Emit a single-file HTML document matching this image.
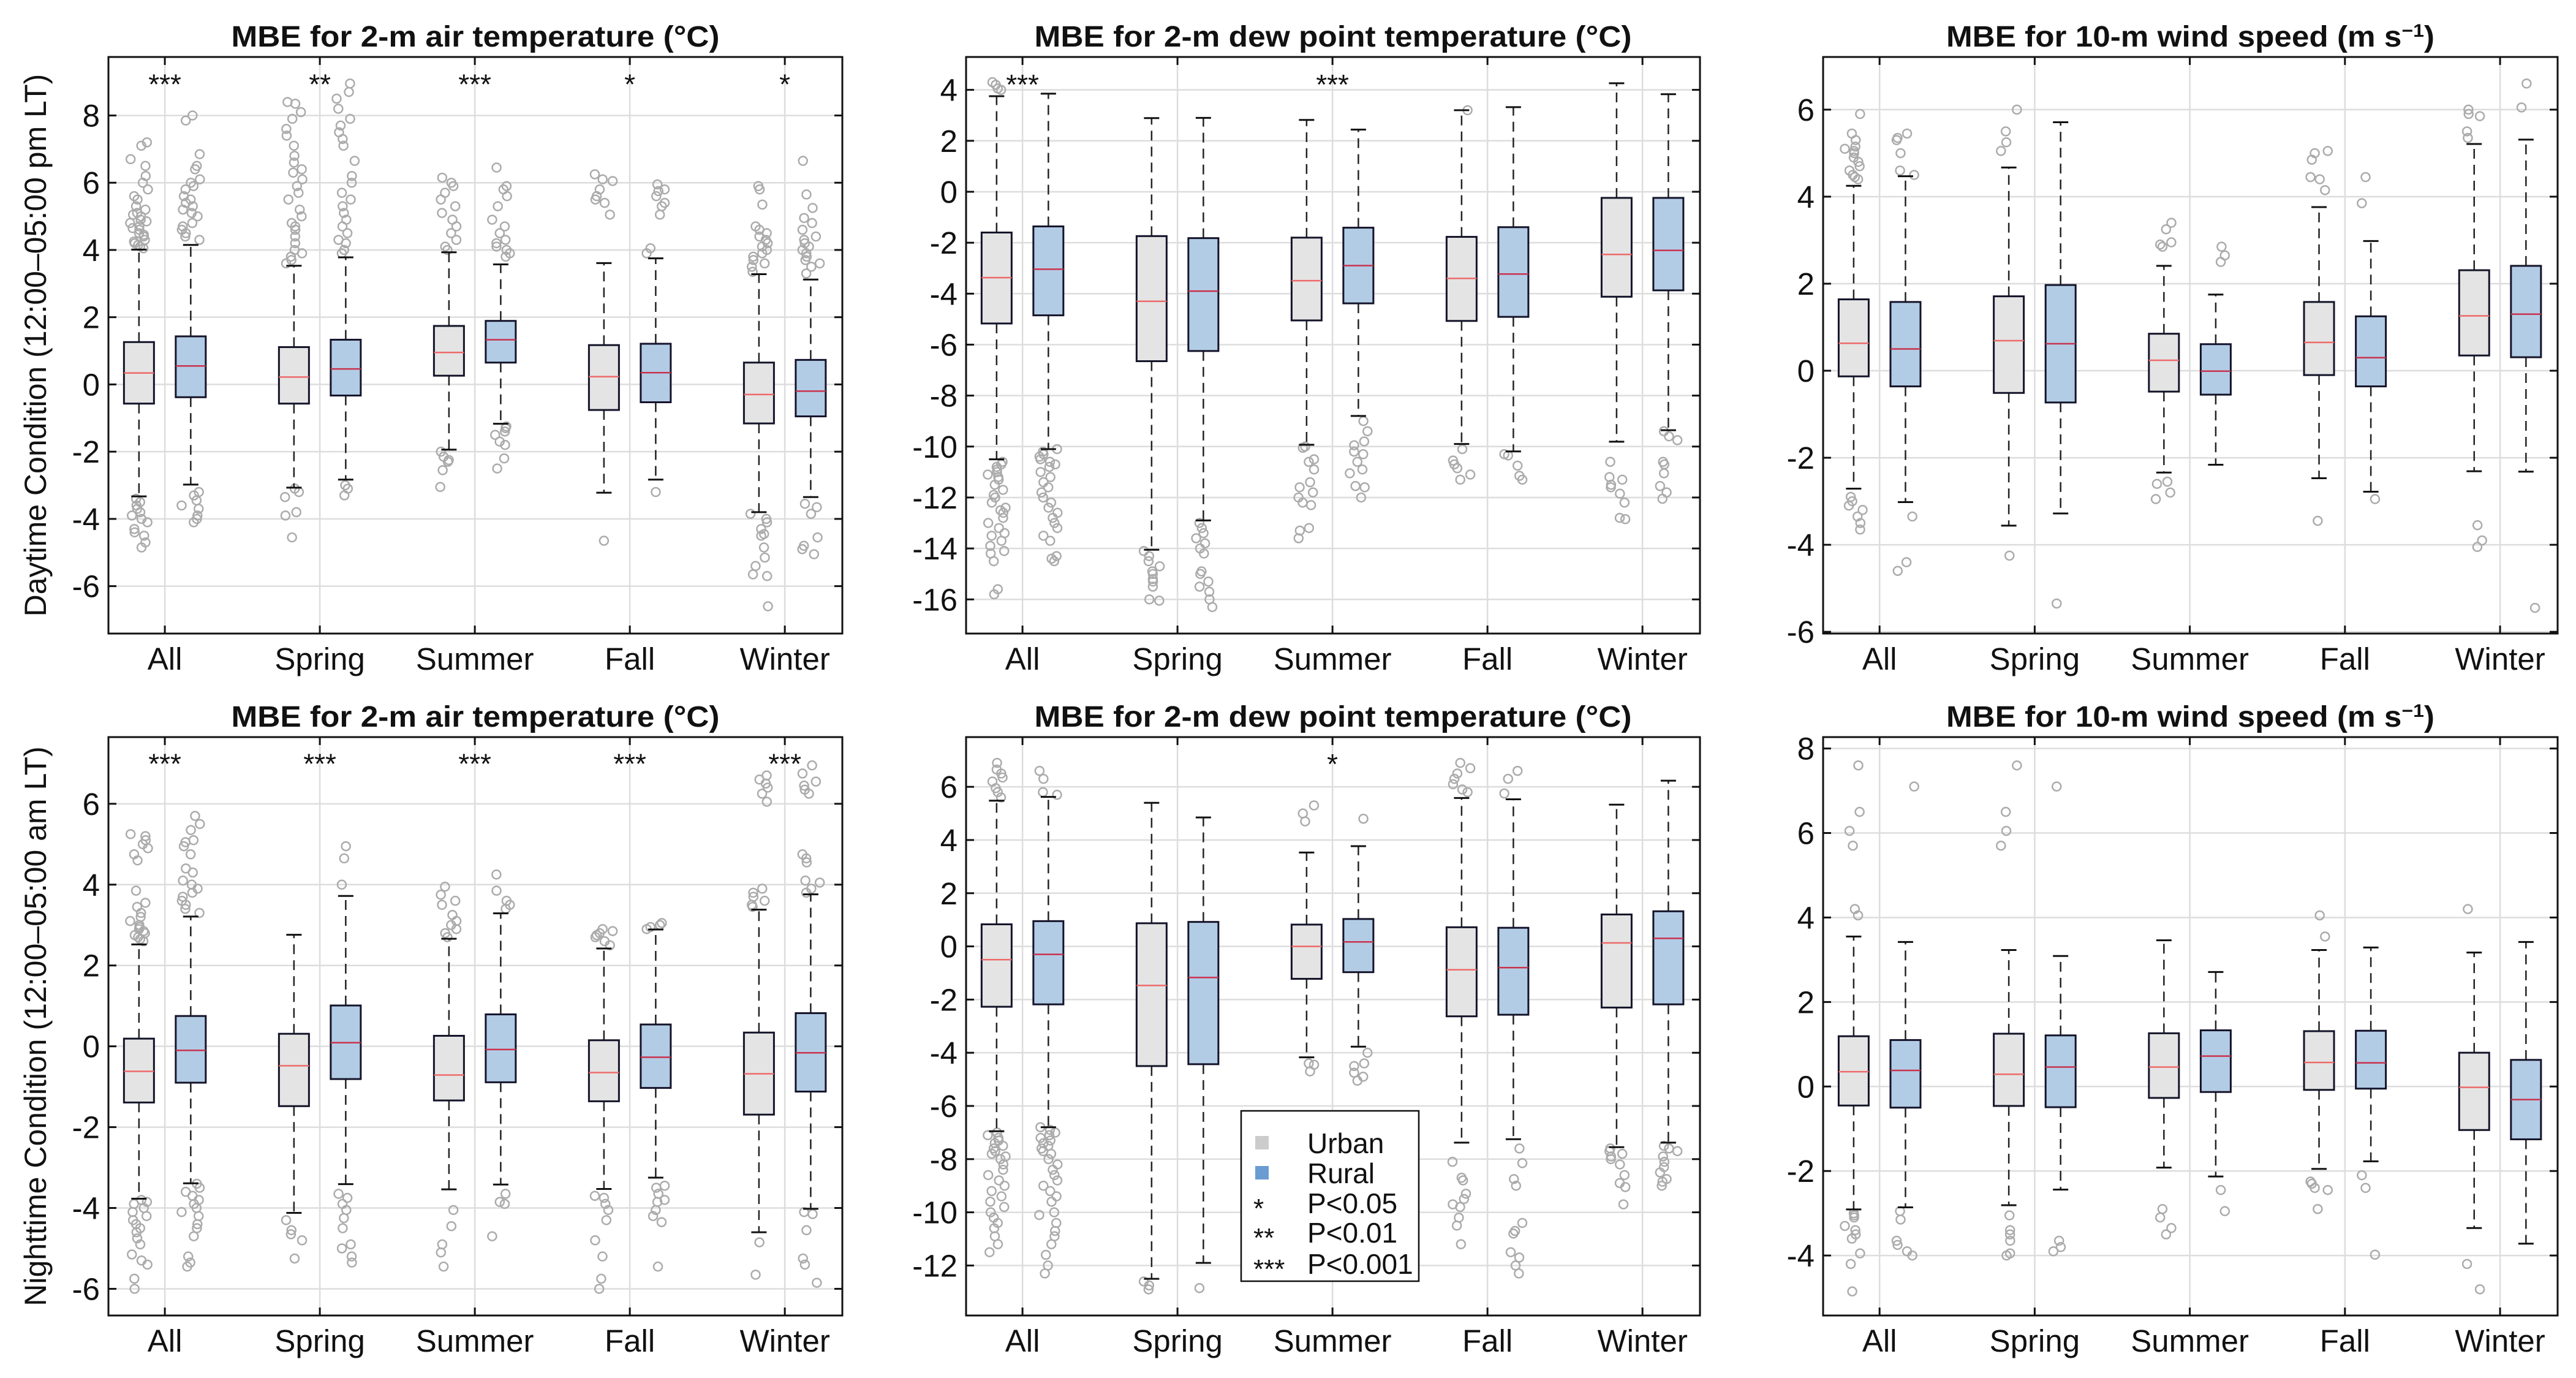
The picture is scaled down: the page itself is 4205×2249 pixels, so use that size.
<!DOCTYPE html>
<html><head><meta charset="utf-8"><title>MBE boxplots</title>
<style>html,body{margin:0;padding:0;background:#fff}svg{display:block}text{font-family:"Liberation Sans",Arial,sans-serif;fill:#111}</style>
</head><body>
<svg id="fig" xmlns="http://www.w3.org/2000/svg" width="4205" height="2249" viewBox="0 0 4205 2249"></svg>
<script>
const categories = ["All","Spring","Summer","Fall","Winter"];
// Panel 1: air temperature, daytime
const p1UrbanQ1=[-0.57,-0.57,0.26,-0.76,-1.16], p1UrbanMed=[0.34,0.22,0.95,0.23,-0.30], p1UrbanQ3=[1.26,1.11,1.74,1.17,0.65], p1UrbanLo=[-3.33,-3.07,-1.94,-3.22,-3.8], p1UrbanHi=[4.01,3.53,3.93,3.61,3.28];
const p1RuralQ1=[-0.38,-0.33,0.65,-0.53,-0.95], p1RuralMed=[0.55,0.46,1.33,0.35,-0.2], p1RuralQ3=[1.43,1.33,1.89,1.21,0.73], p1RuralLo=[-2.98,-2.83,-1.17,-2.83,-3.35], p1RuralHi=[4.15,3.78,3.57,3.75,3.12];
const p1UrbanOut=[[4.05,4.1,4.15,4.2,4.3,4.4,4.5,4.6,4.7,4.8,4.9,5.0,5.1,5.2,5.3,5.5,5.6,5.8,6.0,6.2,6.5,6.7,7.1,7.2,4.25,4.45,4.65,4.85,5.05,-3.4,-3.5,-3.6,-3.7,-3.8,-3.9,-4.0,-4.1,-4.3,-4.4,-4.5,-4.7,-4.85],[3.6,3.7,3.8,3.9,4.0,4.2,4.4,4.6,4.7,4.8,5.0,5.2,5.5,5.7,5.9,6.1,6.3,6.4,6.6,6.8,7.1,7.4,7.6,7.9,8.1,8.35,8.4,-3.1,-3.2,-3.35,-3.8,-3.9,-4.55],[4.0,4.1,4.3,4.5,4.7,4.9,5.1,5.3,5.5,5.7,5.9,6.0,6.15,-2.0,-2.15,-2.25,-2.3,-2.55,-3.05],[5.05,5.4,5.5,5.6,5.8,6.05,6.1,6.25,-4.65],[3.35,3.5,3.6,3.7,3.8,3.9,4.0,4.1,4.2,4.3,4.4,4.5,4.6,4.7,5.35,5.8,5.9,-3.85,-4.0,-4.1,-4.3,-4.45,-4.5,-4.85,-5.15,-5.4,-5.65,-5.7,-6.6]];
const p1RuralOut=[[4.3,4.4,4.5,4.6,4.7,4.8,5.0,5.1,5.2,5.3,5.4,5.5,5.6,5.8,5.9,6.0,6.1,6.4,6.5,6.85,7.85,8.0,-3.2,-3.3,-3.45,-3.6,-3.7,-3.9,-4.0,-4.1],[3.9,4.0,4.2,4.3,4.5,4.7,4.9,5.1,5.3,5.5,5.7,6.0,6.2,6.65,7.1,7.3,7.5,7.7,7.9,8.2,8.5,8.7,8.95,-3.0,-3.1,-3.3],[3.8,3.9,4.0,4.1,4.2,4.3,4.5,4.7,4.9,5.3,5.6,5.8,5.9,6.45,-1.25,-1.3,-1.4,-1.5,-1.7,-1.8,-2.2,-2.5],[3.9,4.05,5.05,5.3,5.4,5.6,5.75,5.8,5.95,-3.2],[3.3,3.5,3.6,3.7,3.8,3.9,4.0,4.1,4.2,4.3,4.4,4.6,4.8,4.95,5.25,5.65,6.65,-3.55,-3.65,-3.85,-4.55,-4.8,-4.9,-5.05]];
const p1Stars=["***","**","***","*","*"];
const p1Ticks=[-6,-4,-2,0,2,4,6,8];
// Panel 2: dew point, daytime
const p2UrbanQ1=[-5.17,-6.65,-5.05,-5.07,-4.12], p2UrbanMed=[-3.37,-4.3,-3.49,-3.4,-2.46], p2UrbanQ3=[-1.6,-1.74,-1.8,-1.77,-0.24], p2UrbanLo=[-10.5,-14.05,-9.93,-9.9,-9.81], p2UrbanHi=[3.75,2.89,2.82,3.2,4.26];
const p2RuralQ1=[-4.85,-6.25,-4.38,-4.91,-3.87], p2RuralMed=[-3.04,-3.9,-2.9,-3.23,-2.3], p2RuralQ3=[-1.36,-1.82,-1.41,-1.39,-0.24], p2RuralLo=[-10.1,-12.9,-8.8,-10.19,-9.36], p2RuralHi=[3.85,2.9,2.44,3.32,3.83];
const p2UrbanOut=[[4.0,4.05,4.2,4.3,-10.6,-10.7,-10.8,-10.9,-11.0,-11.1,-11.2,-11.3,-11.5,-11.7,-11.9,-12.0,-12.2,-12.4,-12.5,-12.6,-12.8,-13.0,-13.2,-13.4,-13.5,-13.7,-13.9,-14.1,-14.2,-14.5,-15.6,-15.8],[-14.1,-14.3,-14.5,-14.7,-14.9,-15.0,-15.2,-15.3,-15.5,-16.0,-16.05],[-10.0,-10.05,-10.5,-10.6,-10.9,-11.4,-11.6,-11.8,-12.0,-12.2,-12.3,-13.2,-13.3,-13.6],[3.2,-10.1,-10.55,-10.7,-10.85,-11.1,-11.3],[-10.6,-11.2,-11.3,-11.5,-11.6,-11.85,-12.2,-12.8,-12.85]];
const p2RuralOut=[[-10.1,-10.2,-10.3,-10.4,-10.5,-10.6,-10.7,-10.8,-11.0,-11.2,-11.4,-11.6,-11.8,-12.0,-12.2,-12.4,-12.6,-12.8,-13.0,-13.2,-13.5,-13.7,-14.3,-14.4,-14.5],[-13.0,-13.2,-13.4,-13.6,-13.8,-14.0,-14.2,-14.9,-15.0,-15.3,-15.5,-15.7,-16.0,-16.3],[-9.0,-9.4,-9.8,-9.95,-10.2,-10.3,-10.6,-10.9,-11.05,-11.55,-11.6,-12.0],[-10.3,-10.35,-10.75,-11.15,-11.3],[-9.4,-9.6,-9.75,-10.6,-10.7,-11.05,-11.55,-11.8,-12.05]];
const p2Stars=["***","","***","",""];
const p2Ticks=[-16,-14,-12,-10,-8,-6,-4,-2,0,2,4];
// Panel 3: wind speed, daytime
const p3UrbanQ1=[-0.13,-0.51,-0.48,-0.1,0.35], p3UrbanMed=[0.63,0.69,0.24,0.65,1.26], p3UrbanQ3=[1.64,1.71,0.85,1.58,2.31], p3UrbanLo=[-2.71,-3.56,-2.34,-2.47,-2.31], p3UrbanHi=[4.25,4.67,2.41,3.76,5.21];
const p3RuralQ1=[-0.36,-0.73,-0.55,-0.36,0.31], p3RuralMed=[0.5,0.62,-0.01,0.3,1.3], p3RuralQ3=[1.58,1.97,0.61,1.25,2.41], p3RuralLo=[-3.02,-3.28,-2.16,-2.78,-2.32], p3RuralHi=[4.47,5.71,1.75,2.98,5.31];
const p3UrbanOut=[[4.4,4.45,4.5,4.6,4.7,4.8,4.9,5.0,5.05,5.1,5.15,5.3,5.45,5.9,-2.9,-3.0,-3.1,-3.2,-3.35,-3.5,-3.65],[5.05,5.25,5.5,6.0,-4.25],[2.85,2.9,2.95,3.25,3.4,-2.55,-2.6,-2.8,-2.95],[4.15,4.4,4.45,4.85,5.0,5.05,-3.45],[5.35,5.5,5.85,5.9,6.0,-3.55,-3.9,-4.05]];
const p3RuralOut=[[4.5,4.6,5.0,5.3,5.35,5.45,-3.35,-4.4,-4.6],[-5.35],[2.5,2.65,2.85],[3.85,4.45,-2.95],[6.05,6.6,-5.45]];
const p3Stars=["","","","",""];
const p3Ticks=[-6,-4,-2,0,2,4,6];
// Panel 4: air temperature, nighttime
const p4UrbanQ1=[-1.39,-1.48,-1.34,-1.36,-1.69], p4UrbanMed=[-0.62,-0.48,-0.71,-0.65,-0.68], p4UrbanQ3=[0.19,0.31,0.26,0.15,0.34], p4UrbanLo=[-3.77,-4.12,-3.54,-3.53,-4.6], p4UrbanHi=[2.52,2.76,2.66,2.42,3.38];
const p4RuralQ1=[-0.9,-0.81,-0.89,-1.03,-1.12], p4RuralMed=[-0.1,0.09,-0.08,-0.27,-0.16], p4RuralQ3=[0.75,1.01,0.79,0.54,0.82], p4RuralLo=[-3.39,-3.41,-3.42,-3.25,-4.02], p4RuralHi=[3.21,3.72,3.29,2.89,3.76];
const p4UrbanOut=[[2.6,2.65,2.7,2.75,2.8,2.85,2.9,2.95,3.0,3.1,3.2,3.3,3.45,3.55,3.85,4.6,4.75,4.9,5.0,5.1,5.2,5.25,-3.8,-3.85,-3.9,-4.0,-4.1,-4.2,-4.3,-4.4,-4.5,-4.6,-4.75,-4.9,-5.15,-5.3,-5.4,-5.75,-6.0],[-4.3,-4.55,-4.65,-4.8,-5.25],[2.7,2.8,2.9,3.0,3.1,3.25,3.5,3.6,3.75,3.95,-4.05,-4.45,-4.9,-5.1,-5.45],[2.5,2.6,2.7,2.75,2.8,2.85,2.9,-3.7,-3.75,-3.9,-4.05,-4.3,-4.8,-5.2,-5.75,-6.0],[3.45,3.5,3.6,3.7,3.8,3.9,6.05,6.25,6.4,6.5,6.6,6.7,-4.85,-5.65]];
const p4RuralOut=[[3.3,3.4,3.5,3.6,3.7,3.8,3.9,4.0,4.1,4.3,4.4,4.75,4.95,5.05,5.1,5.35,5.5,5.7,-3.4,-3.5,-3.6,-3.7,-3.8,-3.9,-4.0,-4.1,-4.2,-4.4,-4.5,-4.7,-5.2,-5.35,-5.45],[4.0,4.65,4.95,-3.65,-3.75,-3.9,-4.05,-4.25,-4.5,-4.9,-5.0,-5.2,-5.35],[3.4,3.5,3.6,3.85,4.25,-3.65,-3.85,-3.9,-4.7],[2.9,2.95,3.0,3.05,-3.45,-3.5,-3.65,-3.8,-3.85,-4.05,-4.2,-4.35,-5.45],[3.8,3.9,4.05,4.1,4.55,4.65,4.75,6.25,6.35,6.45,6.55,6.75,6.95,-4.1,-4.15,-4.55,-5.25,-5.4,-5.85]];
const p4Stars=["***","***","***","***","***"];
const p4Ticks=[-6,-4,-2,0,2,4,6];
// Panel 5: dew point, nighttime
const p5UrbanQ1=[-2.27,-4.5,-1.22,-2.63,-2.3], p5UrbanMed=[-0.5,-1.47,0,-0.88,0.13], p5UrbanQ3=[0.83,0.87,0.82,0.72,1.2], p5UrbanLo=[-6.95,-12.5,-4.17,-7.38,-7.55], p5UrbanHi=[5.48,5.4,3.53,5.58,5.33];
const p5RuralQ1=[-2.18,-4.43,-0.97,-2.57,-2.18], p5RuralMed=[-0.3,-1.17,0.17,-0.8,0.3], p5RuralQ3=[0.95,0.92,1.03,0.7,1.32], p5RuralLo=[-6.8,-11.9,-3.77,-7.25,-7.38], p5RuralHi=[5.62,4.85,3.77,5.53,6.23];
const p5UrbanOut=[[5.6,5.8,5.95,6.2,6.35,6.5,6.65,6.9,-7.0,-7.1,-7.2,-7.3,-7.4,-7.5,-7.6,-7.7,-7.8,-7.9,-8.0,-8.2,-8.4,-8.6,-8.8,-9.0,-9.2,-9.4,-9.6,-9.8,-10.0,-10.2,-10.4,-10.6,-10.9,-11.2,-11.5],[-12.6,-12.75,-12.9],[4.7,5.0,5.3,-4.4,-4.45,-4.7],[5.8,5.9,6.1,6.3,6.5,6.7,6.9,-8.1,-8.7,-8.8,-9.3,-9.5,-9.7,-9.8,-10.2,-10.5,-11.2],[-7.6,-7.7,-7.8,-7.9,-8.0,-8.2,-8.6,-8.9,-9.05,-9.7]];
const p5RuralOut=[[5.7,5.8,6.3,6.6,-6.8,-6.9,-7.0,-7.1,-7.2,-7.3,-7.4,-7.5,-7.6,-7.7,-7.8,-8.0,-8.2,-8.4,-8.6,-8.8,-9.0,-9.2,-9.4,-9.6,-10.0,-10.1,-10.4,-10.7,-10.9,-11.2,-11.6,-12.0,-12.3],[-12.85],[4.8,-4.0,-4.4,-4.5,-4.75,-4.9,-5.05],[5.75,6.3,6.6,-7.6,-8.15,-8.75,-9.0,-10.4,-10.7,-10.8,-11.5,-11.7,-12.0,-12.3],[-7.5,-7.6,-7.7,-7.9,-8.1,-8.3,-8.5,-8.75,-8.85,-9.0]];
const p5Stars=["","","*","",""];
const p5Ticks=[-12,-10,-8,-6,-4,-2,0,2,4,6];
// Panel 6: wind speed, nighttime
const p6UrbanQ1=[-0.45,-0.46,-0.27,-0.08,-1.03], p6UrbanMed=[0.35,0.29,0.46,0.57,-0.02], p6UrbanQ3=[1.19,1.25,1.26,1.31,0.8], p6UrbanLo=[-2.91,-2.81,-1.92,-1.95,-3.35], p6UrbanHi=[3.55,3.23,3.46,3.23,3.17];
const p6RuralQ1=[-0.5,-0.49,-0.13,-0.05,-1.25], p6RuralMed=[0.38,0.46,0.72,0.56,-0.31], p6RuralQ3=[1.1,1.21,1.33,1.32,0.63], p6RuralLo=[-2.86,-2.44,-2.13,-1.77,-3.72], p6RuralHi=[3.42,3.09,2.71,3.29,3.42];
const p6UrbanOut=[[4.05,4.2,5.7,6.05,6.5,7.6,-3.0,-3.05,-3.1,-3.3,-3.4,-3.5,-3.6,-3.95,-4.2,-4.85],[5.7,6.05,6.5,7.6,-3.05,-3.4,-3.5,-3.65,-3.95,-4.0],[-2.9,-3.1,-3.35,-3.5],[3.55,4.05,-2.25,-2.3,-2.4,-2.45,-2.9],[4.2,-4.2,-4.8]];
const p6RuralOut=[[7.1,-2.95,-3.15,-3.65,-3.75,-3.9,-4.0],[7.1,-3.65,-3.8,-3.9],[-2.45,-2.95],[-2.1,-2.4,-3.98],[]];
const p6Stars=["","","","",""];
const p6Ticks=[-4,-2,0,2,4,6,8];
const legendLabels=["Urban","Rural","*","**","***"];
const legendText=["","","P<0.05","P<0.01","P<0.001"];

const NS="http://www.w3.org/2000/svg";
const svg=document.getElementById("fig");
function mk(tag,attrs,parent){const e=document.createElementNS(NS,tag);for(const k in attrs)e.setAttribute(k,attrs[k]);(parent||svg).appendChild(e);return e;}
function jitter(k,i){const s=Math.sin((k+1)*12.9898+(i+1)*78.233)*43758.5453;return (s-Math.floor(s))*2-1;}

const panels=[
 {id:"air-day",x0:177,x1:1375,y0:93,y1:1034,ymin:-7.41,ymax:9.74,title:"MBE for 2-m air temperature (°C)",tw:797,ticks:p1Ticks,u:[p1UrbanQ1,p1UrbanMed,p1UrbanQ3,p1UrbanLo,p1UrbanHi,p1UrbanOut],r:[p1RuralQ1,p1RuralMed,p1RuralQ3,p1RuralLo,p1RuralHi,p1RuralOut],stars:p1Stars,starY:9.0,ylab:"Daytime Condition (12:00–05:00 pm LT)"},
 {id:"dew-day",x0:1577,x1:2775,y0:93,y1:1034,ymin:-17.34,ymax:5.29,title:"MBE for 2-m dew point temperature (°C)",tw:975,ticks:p2Ticks,u:[p2UrbanQ1,p2UrbanMed,p2UrbanQ3,p2UrbanLo,p2UrbanHi,p2UrbanOut],r:[p2RuralQ1,p2RuralMed,p2RuralQ3,p2RuralLo,p2RuralHi,p2RuralOut],stars:p2Stars,starY:4.31},
 {id:"wind-day",x0:2976,x1:4175,y0:93,y1:1034,ymin:-6.04,ymax:7.21,title:"wind",tw:797,ticks:p3Ticks,u:[p3UrbanQ1,p3UrbanMed,p3UrbanQ3,p3UrbanLo,p3UrbanHi,p3UrbanOut],r:[p3RuralQ1,p3RuralMed,p3RuralQ3,p3RuralLo,p3RuralHi,p3RuralOut],stars:p3Stars,starY:6},
 {id:"air-night",x0:177,x1:1375,y0:1203,y1:2147,ymin:-6.66,ymax:7.65,title:"MBE for 2-m air temperature (°C)",tw:797,ticks:p4Ticks,u:[p4UrbanQ1,p4UrbanMed,p4UrbanQ3,p4UrbanLo,p4UrbanHi,p4UrbanOut],r:[p4RuralQ1,p4RuralMed,p4RuralQ3,p4RuralLo,p4RuralHi,p4RuralOut],stars:p4Stars,starY:7.05,ylab:"Nighttime Condition (12:00–05:00 am LT)"},
 {id:"dew-night",x0:1577,x1:2775,y0:1203,y1:2147,ymin:-13.88,ymax:7.87,title:"MBE for 2-m dew point temperature (°C)",tw:975,ticks:p5Ticks,u:[p5UrbanQ1,p5UrbanMed,p5UrbanQ3,p5UrbanLo,p5UrbanHi,p5UrbanOut],r:[p5RuralQ1,p5RuralMed,p5RuralQ3,p5RuralLo,p5RuralHi,p5RuralOut],stars:p5Stars,starY:6.95,legend:true},
 {id:"wind-night",x0:2976,x1:4175,y0:1203,y1:2147,ymin:-5.42,ymax:8.27,title:"wind",tw:797,ticks:p6Ticks,u:[p6UrbanQ1,p6UrbanMed,p6UrbanQ3,p6UrbanLo,p6UrbanHi,p6UrbanOut],r:[p6RuralQ1,p6RuralMed,p6RuralQ3,p6RuralLo,p6RuralHi,p6RuralOut],stars:p6Stars,starY:7}
];

panels.forEach(p=>{
 const g=mk("g",{});
 
 
 const xs=v=>p.x0+(v-0.636)/(5.371-0.636)*(p.x1-p.x0);
 const ys=v=>p.y1-(v-p.ymin)/(p.ymax-p.ymin)*(p.y1-p.y0);
 p.ticks.forEach(t=>{
  const l=mk("line",{x1:p.x0,x2:p.x1,y1:ys(t),y2:ys(t),stroke:"#dddddd","stroke-width":2.5},g);
  
  
 });
 categories.forEach((c,i)=>{
  const l=mk("line",{x1:xs(i+1),x2:xs(i+1),y1:p.y0,y2:p.y1,stroke:"#dddddd","stroke-width":2.5},g);
  
  
 });
 [["urban",p.u,-0.167,"#e4e4e4","#ee6a6a"],["rural",p.r,0.167,"#b3cce5","#c8324e"]].forEach(([grp,d,off,fill,medc],gi)=>{
  categories.forEach((c,i)=>{
   const cx=xs(i+1+off), hw=24.5;
   const q1=d[0][i],med=d[1][i],q3=d[2][i],lo=d[3][i],hi=d[4][i],out=d[5][i];
   out.forEach((v,k)=>{
    const jit=jitter(k,i+gi*7)*15;
    const o=mk("circle",{cx:cx+jit,cy:ys(v),r:7,fill:"none",stroke:"#ababab","stroke-width":2.5},g);
    
    
   });
   const w1=mk("line",{x1:cx,x2:cx,y1:ys(q3),y2:ys(hi),stroke:"#222","stroke-width":2.5,"stroke-dasharray":"16,10"},g);
   
   
   const w2=mk("line",{x1:cx,x2:cx,y1:ys(q1),y2:ys(lo),stroke:"#222","stroke-width":2.5,"stroke-dasharray":"16,10"},g);
   
   
   [hi,lo].forEach(v=>{
    const cp=mk("line",{x1:cx-12.5,x2:cx+12.5,y1:ys(v),y2:ys(v),stroke:"#111","stroke-width":3},g);
    
    
   });
   const b=mk("rect",{x:cx-hw,y:ys(q3),width:2*hw,height:ys(q1)-ys(q3),fill:fill,stroke:"#14142a","stroke-width":3},g);
   
   
   const m=mk("line",{x1:cx-hw,x2:cx+hw,y1:ys(med),y2:ys(med),stroke:medc,"stroke-width":2.5},g);
   
   
  });
 });
 p.stars.forEach((s,i)=>{
  if(!s)return;
  const t=mk("text",{x:xs(i+1),y:ys(p.starY)+20,"text-anchor":"middle","font-size":46},g);
  t.textContent=s;
  
  
 });
 const fr=mk("rect",{x:p.x0,y:p.y0,width:p.x1-p.x0,height:p.y1-p.y0,fill:"none",stroke:"#111","stroke-width":3},g);
 
 
 p.ticks.forEach(t=>{
  mk("line",{x1:p.x0,x2:p.x0+13,y1:ys(t),y2:ys(t),stroke:"#111","stroke-width":3},g);
  mk("line",{x1:p.x1-13,x2:p.x1,y1:ys(t),y2:ys(t),stroke:"#111","stroke-width":3},g);
  const lb=mk("text",{x:p.x0-14,y:ys(t)+18,"text-anchor":"end","font-size":51},g);
  lb.textContent=String(t);
  
  
 });
 categories.forEach((c,i)=>{
  mk("line",{x1:xs(i+1),x2:xs(i+1),y1:p.y1,y2:p.y1-13,stroke:"#111","stroke-width":3},g);
  mk("line",{x1:xs(i+1),x2:xs(i+1),y1:p.y0,y2:p.y0+13,stroke:"#111","stroke-width":3},g);
  const lb=mk("text",{x:xs(i+1),y:p.y1+59,"text-anchor":"middle","font-size":51},g);
  lb.textContent=c;
  
  
 });
 const cx=(p.x0+p.x1)/2;
 const tt=mk("text",{x:cx,y:p.y0-17,"text-anchor":"middle","font-size":48,"font-weight":"bold",textLength:p.tw,lengthAdjust:"spacingAndGlyphs"},g);
 if(p.title==="wind"){
  tt.appendChild(document.createTextNode("MBE for 10-m wind speed (m s"));
  const sp=mk("tspan",{"baseline-shift":"super","font-size":30},tt);sp.textContent="−1";
  tt.appendChild(document.createTextNode(")"));
 } else tt.textContent=p.title;
 
 
 if(p.ylab){
  const yl=mk("text",{x:0,y:0,"text-anchor":"middle","font-size":50,transform:`translate(${58+17},${(p.y0+p.y1)/2}) rotate(-90)`},g);
  yl.textContent=p.ylab;
  
  
 }
 if(p.legend){
  const lg=mk("g",{},g);
  
  
  mk("rect",{x:2026,y:1813,width:290,height:278,fill:"#fff",stroke:"#111","stroke-width":2.5},lg);
  const rowsY=[1865,1914,1963,2011,2062];
  legendLabels.forEach((l,k)=>{
   const ent=mk("g",{},lg);
   
   
   if(k<2){
    mk("rect",{x:2049,y:rowsY[k]-11,width:22,height:22,fill:k===0?"#cccccc":"#6a9bd1"},ent);
    const t=mk("text",{x:2134,y:rowsY[k]+17,"font-size":46},ent);t.textContent=l;
   } else {
    const s=mk("text",{x:2046,y:rowsY[k]+24,"font-size":44},ent);s.textContent=l;
    const t=mk("text",{x:2134,y:rowsY[k]+17,"font-size":46},ent);t.textContent=legendText[k];
   }
  });
 }
});
</script>
</body></html>
